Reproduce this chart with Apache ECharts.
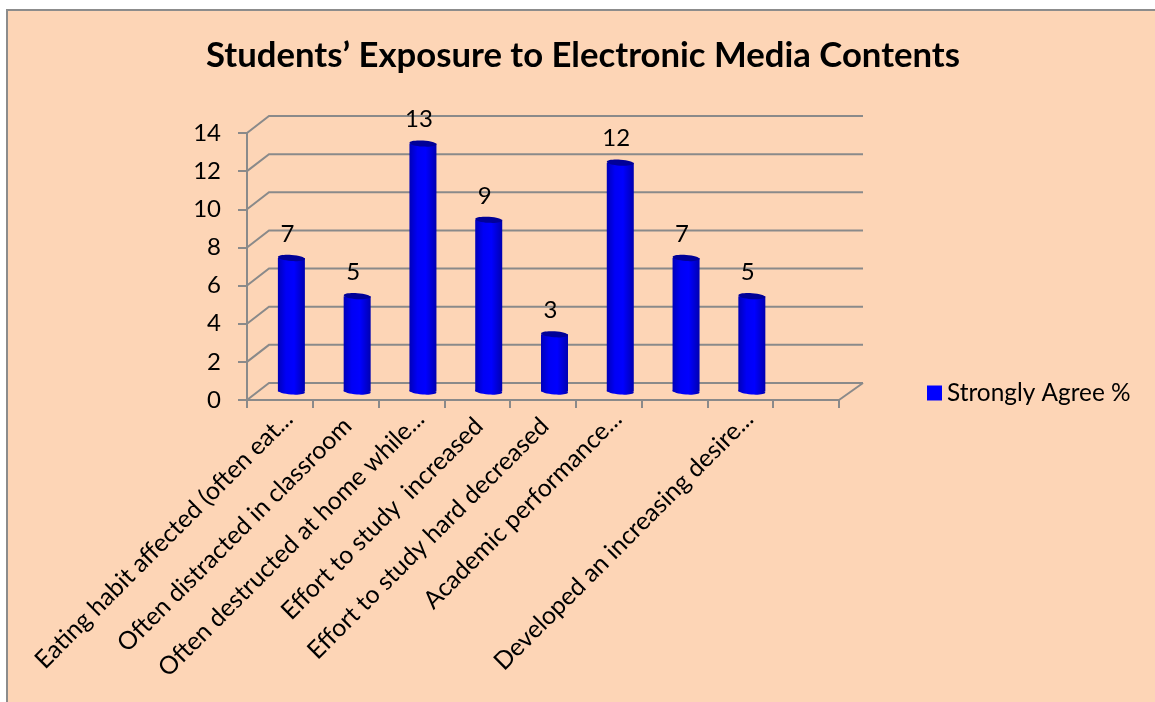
<!DOCTYPE html>
<html>
<head>
<meta charset="utf-8">
<script src="https://cdn.jsdelivr.net/npm/echarts@6/dist/echarts.min.js"></script>
<style>html,body{margin:0;padding:0;background:#fff}#c{width:1155px;height:702px}</style>
</head>
<body>
<div id="c"></div>
<script>
const titleText = 'Students’ Exposure to Electronic Media Contents';
const seriesName = 'Strongly Agree %';
const categories = [
  'Eating habit affected (often eat...',
  'Often distracted in classroom',
  'Often destructed at home while...',
  'Effort to study  increased',
  'Effort to study hard decreased',
  'Academic performance...',
  '',
  'Developed an increasing desire...',
  ''
];
const values = [7, 5, 13, 9, 3, 12, 7, 5];
const yTicks = [0, 2, 4, 6, 8, 10, 12, 14];

const FONT = 'Lato, "Open Sans", sans-serif';
const INK = '#000';
const LINE = '#8a8a8a';
// Pseudo-3D depth of the plot box, as a screen offset from front to back
const DEPTH_X = 22, DEPTH_Y = -17;

const chart = echarts.init(document.getElementById('c'), null, {renderer: 'canvas'});

// Back wall, left wall and floor drawn from the y scale
function renderWall(params, api) {
  const rect = params.coordSys;
  const v = api.value(1);
  const y = api.coord([0, v])[1];
  const style = {stroke: LINE, lineWidth: 2, fill: null};
  const children = [{
    type: 'polyline',
    shape: {points: [[rect.x, y], [rect.x + DEPTH_X, y + DEPTH_Y], [rect.x + rect.width + DEPTH_X + 2, y + DEPTH_Y]]},
    style
  }];
  if (v === 0) {
    children.push({
      type: 'line',
      shape: {x1: rect.x + rect.width, y1: y, x2: rect.x + rect.width + DEPTH_X + 2, y2: y + DEPTH_Y},
      style
    });
  }
  return {type: 'group', children};
}

// Cylinder standing halfway into the plot depth
function renderCylinder(params, api) {
  const idx = api.value(0);
  const val = api.value(1);
  const top = api.coord([idx, val]);
  const base = api.coord([idx, 0]);
  const cx = top[0] + DEPTH_X / 2 + 0.5;
  const topY = top[1] + DEPTH_Y / 2;
  const baseY = base[1] + DEPTH_Y / 2;
  const rx = 13.5, ry = 3, tilt = -0.07;
  const body = {
    type: 'linear', x: 0, y: 0, x2: 1, y2: 0,
    colorStops: [
      {offset: 0, color: '#0000b8'},
      {offset: 0.3, color: '#0000f5'},
      {offset: 0.6, color: '#0000ff'},
      {offset: 1, color: '#0000b0'}
    ]
  };
  return {
    type: 'group',
    children: [
      {type: 'ellipse', shape: {cx, cy: baseY, rx, ry}, rotation: tilt, originX: cx, originY: baseY, style: {fill: body}},
      {type: 'rect', shape: {x: cx - rx, y: topY, width: rx * 2, height: baseY - topY}, style: {fill: body}},
      {type: 'ellipse', shape: {cx, cy: topY, rx, ry}, rotation: tilt, originX: cx, originY: topY, style: {fill: '#000098'}},
      {
        type: 'text',
        style: {
          text: String(val), x: cx - 4, y: topY - 24,
          fill: INK, font: '24px ' + FONT, align: 'center', verticalAlign: 'middle'
        }
      }
    ]
  };
}

chart.setOption({
  animation: false,
  backgroundColor: '#fff',
  graphic: [{
    type: 'rect', z: -10, silent: true,
    shape: {x: 7, y: 10, width: 1170, height: 710},
    style: {fill: '#fdd5b6', stroke: '#8c8c8c', lineWidth: 2}
  }],
  title: {
    text: titleText, left: 578, top: 33, textAlign: 'center',
    textStyle: {fontFamily: FONT, fontWeight: 'bold', fontSize: 34.7, color: INK}
  },
  legend: {
    left: 922, top: 376, itemWidth: 15, itemHeight: 15, itemGap: 10,
    data: [{name: seriesName, icon: 'rect', itemStyle: {color: '#0000ff'}}],
    textStyle: {fontFamily: FONT, fontSize: 24.4, color: INK}
  },
  grid: {left: 247, top: 133, width: 592, height: 267, containLabel: false},
  xAxis: {
    type: 'category', data: categories,
    axisLine: {lineStyle: {color: LINE, width: 2}},
    axisTick: {show: true, length: 8, alignWithLabel: false, interval: 0, lineStyle: {color: LINE, width: 2}},
    axisLabel: {
      interval: 0, rotate: 45, margin: 6, verticalAlign: 'top',
      color: INK,
      fontFamily: FONT, fontSize: 24.8,
      // Labels without a trailing ellipsis finish a little short of the tick
      formatter: v => v === '' ? '' : (v.endsWith('...') ? `{t|${v}}` : `{t|${v}}{gap|}`),
      rich: {t: {fontFamily: FONT, fontSize: 24.8, color: INK}, gap: {width: 10}}
    }
  },
  yAxis: {
    type: 'value', min: 0, max: 14, interval: 2,
    axisLine: {show: true, lineStyle: {color: LINE, width: 2}},
    axisTick: {show: true, length: 9, lineStyle: {color: LINE, width: 2}},
    axisLabel: {margin: 26, color: INK, fontFamily: FONT, fontSize: 24},
    splitLine: {show: false}
  },
  series: [
    {
      type: 'custom', name: 'walls', silent: true, z: 1, clip: false,
      renderItem: renderWall,
      data: yTicks.map(v => [0, v])
    },
    {
      type: 'custom', name: seriesName, z: 3, clip: false,
      renderItem: renderCylinder,
      itemStyle: {color: '#0000ff'},
      data: values.map((v, i) => [i, v])
    }
  ]
});
</script>
</body>
</html>
